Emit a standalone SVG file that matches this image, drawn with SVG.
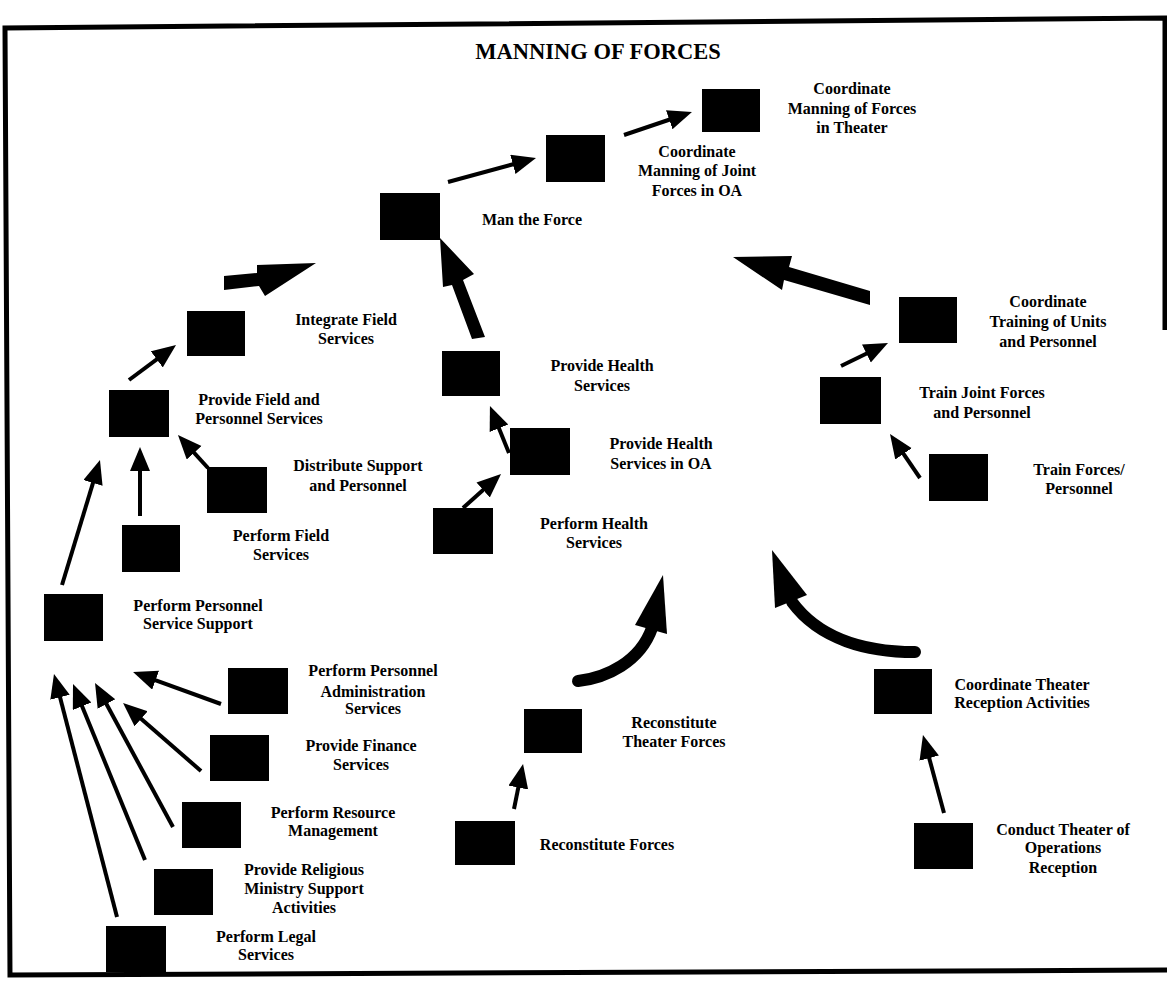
<svg xmlns="http://www.w3.org/2000/svg" width="1167" height="981" viewBox="0 0 1167 981">
<style>
.n{fill:#000}
.t{font-family:"Liberation Serif","Times New Roman",serif;font-weight:bold;font-size:16px;fill:#000;text-anchor:middle}
.title{font-family:"Liberation Serif","Times New Roman",serif;font-weight:bold;font-size:22.5px;fill:#000;text-anchor:middle}
.a{stroke:#000;stroke-width:4;fill:none;marker-end:url(#ah)}
.th{fill:#000}
.cv{stroke:#000;stroke-width:12;fill:none;stroke-linecap:round}
</style>
<defs>
<marker id="ah" markerUnits="userSpaceOnUse" markerWidth="26" markerHeight="22" refX="10" refY="10" orient="auto">
<path d="M0,0 L24,10 L0,20 z" fill="#000"/>
</marker>
</defs>
<rect width="1167" height="981" fill="#fff"/>
<path d="M1165,330 L1165,18 L5,28 L10,975 L1167,970" fill="none" stroke="#000" stroke-width="5"/>
<text class="title" x="598" y="59">MANNING OF FORCES</text>

<g id="connectors">
<line class="a" x1="448" y1="182" x2="522.5" y2="161.7"/>
<line class="a" x1="624" y1="135" x2="678.7" y2="116.5"/>
<line class="a" x1="129" y1="380" x2="164.8" y2="353.4"/>
<line class="a" x1="208" y1="468" x2="187.4" y2="445.4"/>
<line class="a" x1="140" y1="516" x2="140" y2="461"/>
<line class="a" x1="62" y1="585" x2="95.9" y2="473.4"/>
<line class="a" x1="221" y1="704" x2="146.2" y2="676.8"/>
<line class="a" x1="201" y1="771" x2="133.6" y2="712.2"/>
<line class="a" x1="173" y1="827" x2="101.7" y2="695.3"/>
<line class="a" x1="145" y1="860" x2="78.3" y2="697"/>
<line class="a" x1="117" y1="917" x2="57.5" y2="687.6"/>
<line class="a" x1="509" y1="453" x2="495.2" y2="419"/>
<line class="a" x1="463" y1="508" x2="490.6" y2="483.3"/>
<line class="a" x1="514" y1="809" x2="520.3" y2="777.7"/>
<line class="a" x1="944" y1="813" x2="926.6" y2="748.5"/>
<line class="a" x1="841" y1="366" x2="875.4" y2="349.2"/>
<line class="a" x1="920" y1="478" x2="897.9" y2="445.6"/>
<polygon class="th" points="224,276 257,273 257,265 316,263 265,296 259,286 224,290"/>
<polygon class="th" points="440,238 474,274 463,280 485,337 472,339 452,285 443,287"/>
<polygon class="th" points="733,257 792,256 789,267 870,291 870,305 784,280 782,290"/>
<path class="cv" d="M578,681 C606,678 640,662 652,628"/>
<polygon class="th" points="663,575 667,634 635,625"/>
<path class="cv" d="M915,652 C868,652 820,640 792,602"/>
<polygon class="th" points="772,550 807,595 775,608"/>
</g>

<g id="n-theater"><rect class="n" x="702" y="89" width="58" height="43"/><text class="t" x="852" y="94">Coordinate</text><text class="t" x="852" y="114">Manning of Forces</text><text class="t" x="852" y="133">in Theater</text></g>
<g id="n-joint"><rect class="n" x="546" y="135" width="59" height="47"/><text class="t" x="697" y="157">Coordinate</text><text class="t" x="697" y="176">Manning of Joint</text><text class="t" x="697" y="196">Forces in OA</text></g>
<g id="n-man"><rect class="n" x="380" y="193" width="60" height="47"/><text class="t" x="532" y="225">Man the Force</text></g>
<g id="n-integrate"><rect class="n" x="187" y="311" width="58" height="45"/><text class="t" x="346" y="325">Integrate Field</text><text class="t" x="346" y="344">Services</text></g>
<g id="n-pfps"><rect class="n" x="109" y="390" width="60" height="47"/><text class="t" x="259" y="405">Provide Field and</text><text class="t" x="259" y="424">Personnel Services</text></g>
<g id="n-distribute"><rect class="n" x="207" y="467" width="60" height="46"/><text class="t" x="358" y="471">Distribute Support</text><text class="t" x="358" y="491">and Personnel</text></g>
<g id="n-perffield"><rect class="n" x="122" y="525" width="58" height="47"/><text class="t" x="281" y="541">Perform Field</text><text class="t" x="281" y="560">Services</text></g>
<g id="n-pss"><rect class="n" x="44" y="594" width="59" height="47"/><text class="t" x="198" y="611">Perform Personnel</text><text class="t" x="198" y="629">Service Support</text></g>
<g id="n-admin"><rect class="n" x="228" y="668" width="60" height="46"/><text class="t" x="373" y="676">Perform Personnel</text><text class="t" x="373" y="697">Administration</text><text class="t" x="373" y="714">Services</text></g>
<g id="n-finance"><rect class="n" x="210" y="735" width="59" height="46"/><text class="t" x="361" y="751">Provide Finance</text><text class="t" x="361" y="770">Services</text></g>
<g id="n-resource"><rect class="n" x="182" y="802" width="59" height="46"/><text class="t" x="333" y="818">Perform Resource</text><text class="t" x="333" y="836">Management</text></g>
<g id="n-religious"><rect class="n" x="154" y="869" width="59" height="46"/><text class="t" x="304" y="875">Provide Religious</text><text class="t" x="304" y="894">Ministry Support</text><text class="t" x="304" y="913">Activities</text></g>
<g id="n-legal"><rect class="n" x="106" y="926" width="60" height="46"/><text class="t" x="266" y="942">Perform Legal</text><text class="t" x="266" y="960">Services</text></g>
<g id="n-provhealth"><rect class="n" x="442" y="351" width="58" height="45"/><text class="t" x="602" y="371">Provide Health</text><text class="t" x="602" y="391">Services</text></g>
<g id="n-healthoa"><rect class="n" x="510" y="428" width="60" height="47"/><text class="t" x="661" y="449">Provide Health</text><text class="t" x="661" y="469">Services in OA</text></g>
<g id="n-perfhealth"><rect class="n" x="433" y="508" width="60" height="46"/><text class="t" x="594" y="529">Perform Health</text><text class="t" x="594" y="548">Services</text></g>
<g id="n-recontheater"><rect class="n" x="524" y="709" width="58" height="44"/><text class="t" x="674" y="728">Reconstitute</text><text class="t" x="674" y="747">Theater Forces</text></g>
<g id="n-reconforces"><rect class="n" x="455" y="821" width="60" height="44"/><text class="t" x="607" y="850">Reconstitute Forces</text></g>
<g id="n-ctra"><rect class="n" x="874" y="669" width="58" height="45"/><text class="t" x="1022" y="690">Coordinate Theater</text><text class="t" x="1022" y="708">Reception Activities</text></g>
<g id="n-conduct"><rect class="n" x="914" y="823" width="59" height="46"/><text class="t" x="1063" y="835">Conduct Theater of</text><text class="t" x="1063" y="853">Operations</text><text class="t" x="1063" y="873">Reception</text></g>
<g id="n-coordtraining"><rect class="n" x="899" y="297" width="58" height="46"/><text class="t" x="1048" y="307">Coordinate</text><text class="t" x="1048" y="327">Training of Units</text><text class="t" x="1048" y="347">and Personnel</text></g>
<g id="n-trainjoint"><rect class="n" x="820" y="377" width="61" height="47"/><text class="t" x="982" y="398">Train Joint Forces</text><text class="t" x="982" y="418">and Personnel</text></g>
<g id="n-trainforces"><rect class="n" x="929" y="454" width="59" height="47"/><text class="t" x="1079" y="475">Train Forces/</text><text class="t" x="1079" y="494">Personnel</text></g>
</svg>
